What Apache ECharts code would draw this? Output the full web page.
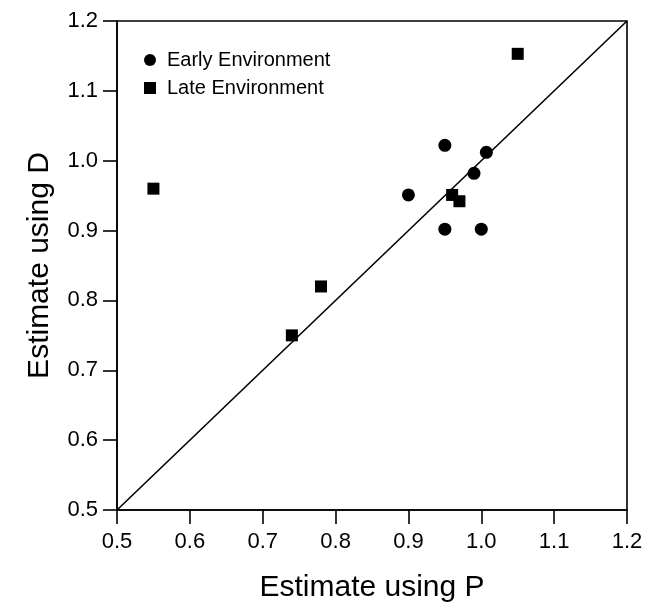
<!DOCTYPE html>
<html><head><meta charset="utf-8">
<script src="https://cdn.jsdelivr.net/npm/echarts@6/dist/echarts.min.js"></script>
<style>html,body{margin:0;padding:0;background:#fff}#c{width:659px;height:608px}</style>
</head><body><div id="c"></div>
<script>
const earlyP = [0.90, 0.95, 0.95, 0.99, 1.007, 1.00];
const earlyD = [0.951, 1.022, 0.902, 0.982, 1.012, 0.902];
const lateP = [0.55, 0.74, 0.78, 0.96, 0.97, 1.05];
const lateD = [0.96, 0.75, 0.82, 0.951, 0.942, 1.153];
const identityLine = [0.5, 1.2];

const font = 'Liberation Sans, Arial, sans-serif';
const chart = echarts.init(document.getElementById('c'), null, {renderer:'canvas'});
function axis(name, isX){
  return {
    type:'value', min:0.5, max:1.2, interval:0.1,
    name:name, nameLocation:'middle', nameGap: isX ? 63 : 62,
    nameTextStyle:{fontFamily:font, fontSize:30, color:'#000'},
    axisLine:{show:true, onZero:false, lineStyle:{color:'#000', width:1.6}},
    axisTick:{show:true, inside:false, length:14, lineStyle:{color:'#000', width:1.6}},
    axisLabel:{fontFamily:font, fontSize:22, color:'#000', margin: isX ? 21 : 19,
      formatter:function(v){ return v.toFixed(1); }},
    splitLine:{show:false}
  };
}
chart.setOption({
  animation:false,
  backgroundColor:'#fff',
  grid:{left:117, top:21, right:32, bottom:96, show:true, borderColor:'#000', borderWidth:1.6},
  xAxis: axis('Estimate using P', true),
  yAxis: axis('Estimate using D', false),
  legend:{
    left:139, top:45, orient:'vertical', itemGap:8, itemWidth:12, itemHeight:12,
    textStyle:{fontFamily:font, fontSize:20, color:'#000', padding:[0,0,0,6]},
    itemStyle:{opacity:1},
    data:[{name:'Early Environment', icon:'circle'},{name:'Late Environment', icon:'rect'}]
  },
  series:[
    {type:'line', data:identityLine.map(v=>[v,v]), symbol:'none', silent:true,
     lineStyle:{color:'#000', width:1.6}},
    {name:'Early Environment', type:'scatter', symbol:'circle', symbolSize:13,
     itemStyle:{color:'#000', opacity:1}, data:earlyP.map((p,i)=>[p, earlyD[i]])},
    {name:'Late Environment', type:'scatter', symbol:'rect', symbolSize:12,
     itemStyle:{color:'#000', opacity:1}, data:lateP.map((p,i)=>[p, lateD[i]])}
  ]
});
</script></body></html>
